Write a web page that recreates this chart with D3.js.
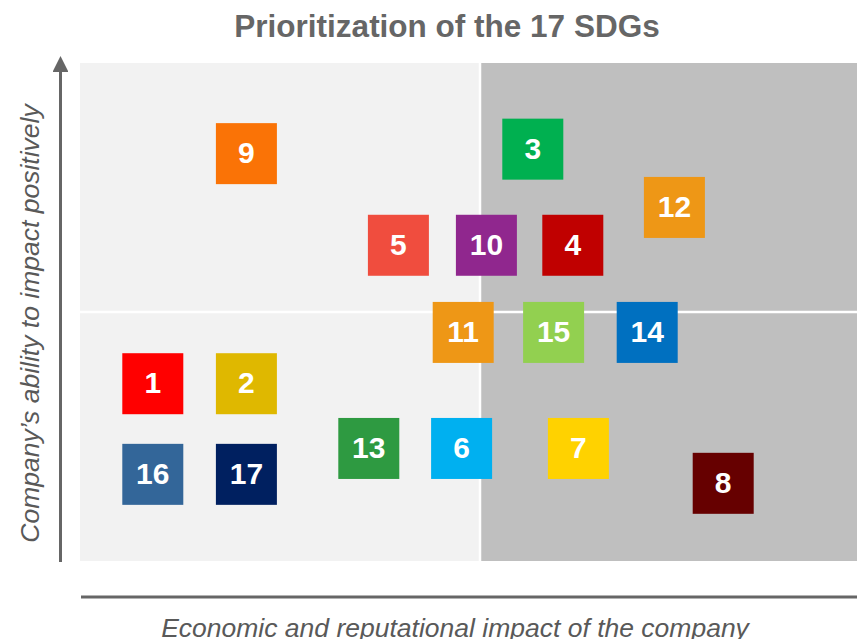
<!DOCTYPE html>
<html lang="en">
<head>
  <meta charset="UTF-8" />
  <title>Prioritization of the 17 SDGs</title>
  <script src="https://d3js.org/d3.v7.min.js"></script>
  <style>
    body {
      margin: 0;
      background-color: #fff;
      font-family: 'Liberation Sans', Arial, sans-serif;
    }
    svg { display: block; }
  </style>
</head>
<body>
  <svg id="chart" width="857" height="639"></svg>

  <script>
    // SDG numbers, positions (economic impact, ability to impact) and colours
    const goals = [1, 2, 3, 4, 5, 6, 7, 8, 9, 10, 11, 12, 13, 14, 15, 16, 17];
    const impact = [0.91, 2.08, 5.66, 6.16, 3.98, 4.77, 6.23, 8.04, 2.08, 5.08, 4.79, 7.43, 3.61, 7.09, 5.92, 0.91, 2.08];
    const ability = [3.56, 3.56, 8.27, 6.34, 6.34, 2.26, 2.26, 1.56, 8.18, 6.34, 4.59, 7.10, 2.26, 4.59, 4.59, 1.74, 1.74];
    const goalColors = ["#ff0000", "#dfb800", "#00b050", "#c00000", "#f04d3e", "#00b0f0", "#ffd200", "#660000",
                        "#fa7306", "#90278e", "#ee9716", "#ee9716", "#2e9a41", "#0070c0", "#92d050", "#336699", "#002060"];

    const data = goals.map((g, i) => ({goal: g, x: impact[i], y: ability[i], color: goalColors[i]}));

    const svg = d3.select("#chart");
    const x = d3.scaleLinear().domain([0, 10]).range([80, 880]);
    const y = d3.scaleLinear().domain([0, 10]).range([561, 63]);
    const size = 61;

    svg.append("text")
      .attr("x", 447).attr("y", 37)
      .attr("text-anchor", "middle")
      .attr("font-size", 31.5).attr("font-weight", "bold")
      .attr("fill", "#666")
      .text("Prioritization of the 17 SDGs");

    // quadrant backgrounds
    svg.append("rect")
      .attr("x", x(0)).attr("y", y(10))
      .attr("width", x(5) - x(0)).attr("height", y(0) - y(10))
      .attr("fill", "#f2f2f2");
    svg.append("rect")
      .attr("x", x(5)).attr("y", y(10))
      .attr("width", x(10) - x(5)).attr("height", y(0) - y(10))
      .attr("fill", "#bfbfbf");
    svg.append("line")
      .attr("x1", x(5)).attr("x2", x(5)).attr("y1", y(0)).attr("y2", y(10))
      .attr("stroke", "#fff").attr("stroke-width", 2.5);
    svg.append("line")
      .attr("x1", x(0)).attr("x2", x(10)).attr("y1", y(5)).attr("y2", y(5))
      .attr("stroke", "#fff").attr("stroke-width", 2.5);

    // axes
    svg.append("defs").append("marker")
      .attr("id", "arrow")
      .attr("viewBox", "0 0 10 10")
      .attr("refX", 5).attr("refY", 5)
      .attr("markerWidth", 5.3).attr("markerHeight", 5.3)
      .attr("markerUnits", "strokeWidth")
      .attr("orient", "auto")
      .append("path").attr("d", "M0,0L10,5L0,10Z").attr("fill", "#666");
    svg.append("line")
      .attr("x1", 60.5).attr("x2", 60.5).attr("y1", 562).attr("y2", 64)
      .attr("stroke", "#666").attr("stroke-width", 3)
      .attr("marker-end", "url(#arrow)");
    svg.append("line")
      .attr("x1", 81).attr("x2", 857).attr("y1", 597).attr("y2", 597)
      .attr("stroke", "#666").attr("stroke-width", 3);

    svg.append("text")
      .attr("transform", "translate(38.5,323.5) rotate(-90)")
      .attr("text-anchor", "middle")
      .attr("font-size", 26.5).attr("font-style", "italic")
      .attr("fill", "#595959")
      .text("Company\u2019s ability to impact positively");
    svg.append("text")
      .attr("x", 455).attr("y", 637)
      .attr("text-anchor", "middle")
      .attr("font-size", 26.5).attr("font-style", "italic")
      .attr("fill", "#595959")
      .text("Economic and reputational impact of the company");

    // SDG squares
    const g = svg.selectAll("g.sdg")
      .data(data)
      .enter().append("g")
      .attr("class", "sdg")
      .attr("transform", d => `translate(${x(d.x)},${y(d.y)})`);
    g.append("rect")
      .attr("x", -size / 2).attr("y", -size / 2)
      .attr("width", size).attr("height", size)
      .attr("fill", d => d.color);
    g.append("text")
      .attr("text-anchor", "middle")
      .attr("dy", "0.32em")
      .attr("font-size", 30).attr("font-weight", "bold")
      .attr("fill", "#fff")
      .text(d => d.goal);
  </script>
</body>
</html>
